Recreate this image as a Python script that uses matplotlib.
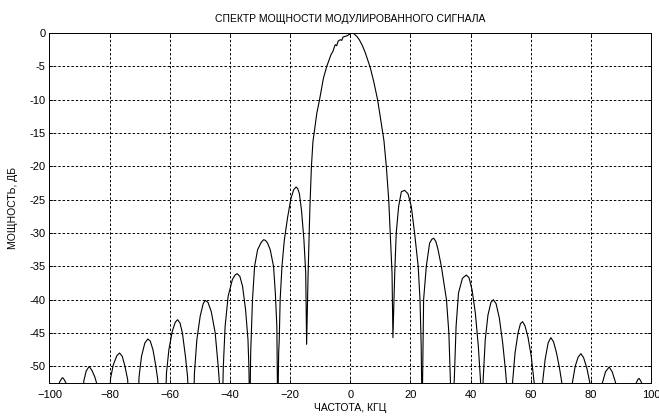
"""
Power spectrum of a modulated signal (MSK-like sidelobe structure).
"""

import matplotlib
matplotlib.use("Agg")
import matplotlib.pyplot as plt

plt.rcParams["font.family"] = ["Liberation Sans Narrow", "Liberation Sans", "DejaVu Sans"]

TITLE = "СПЕКТР МОЩНОСТИ МОДУЛИРОВАННОГО СИГНАЛА"
X_LABEL = "ЧАСТОТА, КГЦ"
Y_LABEL = "МОЩНОСТЬ, ДБ"

X_TICKS = [-100, -80, -60, -40, -20, 0, 20, 40, 60, 80, 100]
Y_TICKS = [0, -5, -10, -15, -20, -25, -30, -35, -40, -45, -50]

# Spectrum, left to right (kHz, dB)
freq_khz = [
    -100.0, -97.2, -96.7, -95.9, -95.6, -95.1, -94.5, -94.0,
    -89.1, -88.6, -87.8, -86.8, -85.9, -85.0, -84.4, -83.8,
    -80.2, -79.7, -78.8, -77.6, -76.7, -75.8, -74.9, -74.0, -73.4,
    -70.8, -70.2, -69.4, -68.3, -67.3, -66.5, -65.6, -64.7, -64.0, -63.4,
    -61.6, -61.1, -60.3, -59.2, -58.2, -57.4, -56.6, -55.8, -54.8, -54.1, -53.4,
    -52.2, -51.8, -51.0, -49.9, -48.9, -48.2, -47.3, -46.2, -44.9, -43.9, -43.5,
    -42.6, -42.2, -41.6, -40.6, -39.2, -38.3, -37.6, -36.7, -35.8, -34.8, -34.0, -33.7, -33.4,
    -33.1, -32.5, -31.8, -30.8, -29.6, -28.8, -28.2, -27.5, -26.6, -25.5, -24.9, -24.4, -24.1,
    -23.8, -23.6, -23.3, -22.7, -21.9, -20.8, -19.7, -18.8, -18.0, -17.5, -16.9, -16.2, -15.4, -14.8, -14.5,
    -14.0, -13.4, -12.9, -12.4, -12.0, -11.1, -10.2, -8.9, -7.8, -6.4, -5.8, -5.0, -4.5, -4.0,
    -3.3, -2.8, -2.4, -1.7, -1.0, -0.3, 0.6, 1.2, 2.2, 3.0, 3.9, 4.8, 5.6, 6.7, 7.8, 9.1,
    10.2, 11.2, 12.0, 12.8, 13.4, 13.9, 14.2,
    14.8, 15.3, 16.1, 17.0, 18.1, 19.2, 20.3, 21.4, 22.6, 23.2, 23.6, 23.9,
    24.2, 24.4, 25.3, 26.4, 27.2, 27.8, 28.5, 29.2, 30.3, 32.0, 32.8, 33.3, 33.8,
    34.6, 35.2, 36.0, 37.3, 38.6, 39.5, 40.5, 41.6, 42.6, 43.3, 43.8,
    44.2, 44.9, 45.8, 46.8, 47.6, 48.5, 49.6, 50.7, 51.6, 53.0,
    54.0, 54.8, 55.8, 56.6, 57.3, 58.1, 59.1, 60.2, 61.0, 62.6,
    64.0, 64.8, 65.8, 66.7, 67.6, 68.6, 69.6, 70.3, 72.2,
    73.9, 74.8, 75.8, 76.7, 77.6, 78.7, 79.6, 81.8,
    83.9, 84.9, 86.1, 87.1, 88.2, 91.6,
    95.1, 95.6, 96.0, 96.5, 96.9, 98.5, 100.0,
]
power_db = [
    -56.0, -58.0, -52.4, -51.8, -51.7, -52.0, -52.5, -58.0,
    -58.0, -52.2, -50.7, -50.0, -50.6, -51.5, -52.4, -58.0,
    -58.0, -51.8, -49.8, -48.4, -48.0, -48.5, -50.0, -52.0, -58.0,
    -58.0, -51.5, -48.5, -46.5, -45.9, -46.2, -47.5, -49.8, -52.0, -58.0,
    -58.0, -51.0, -47.5, -44.8, -43.4, -43.0, -43.5, -45.0, -48.5, -51.5, -58.0,
    -58.0, -51.0, -46.0, -42.5, -40.6, -40.1, -40.4, -41.8, -45.0, -50.0, -52.5,
    -58.0, -50.0, -44.0, -39.5, -37.0, -36.3, -36.1, -36.5, -38.0, -41.5, -46.0, -50.0, -58.0,
    -48.0, -40.0, -35.0, -32.5, -31.4, -31.0, -31.1, -31.5, -32.5, -35.0, -39.0, -44.0, -58.0,
    -48.0, -46.0, -40.0, -35.0, -31.0, -27.6, -24.8, -23.5, -23.1, -23.3, -24.1, -26.6, -31.0, -36.0, -46.7,
    -36.0, -26.0, -20.0, -16.3, -15.0, -12.0, -10.0, -6.75, -5.0, -3.25, -2.8, -1.75, -1.9, -1.2,
    -1.0, -1.1, -0.6, -0.5, -0.4, -0.2, 0.0, -0.1, -0.5, -1.0, -1.75, -2.7, -3.75, -5.25, -7.25, -10.0,
    -13.25, -16.1, -20.0, -25.0, -31.0, -36.0, -45.7,
    -36.0, -30.0, -26.0, -23.8, -23.6, -24.1, -26.0, -30.0, -35.0, -40.0, -47.0, -58.0,
    -47.0, -40.0, -35.0, -31.5, -30.9, -30.8, -31.3, -32.5, -35.0, -40.0, -45.0, -52.0, -58.0,
    -52.0, -44.0, -39.0, -36.8, -36.3, -36.7, -38.5, -42.0, -47.0, -52.0, -58.0,
    -52.0, -46.0, -42.3, -40.4, -40.0, -40.6, -42.8, -46.5, -50.5, -58.0,
    -52.3, -48.0, -45.0, -43.6, -43.3, -43.9, -45.6, -48.5, -51.8, -58.0,
    -52.3, -49.0, -46.5, -45.7, -46.3, -48.0, -50.3, -52.3, -58.0,
    -52.4, -50.0, -48.6, -48.1, -48.7, -50.3, -52.3, -58.0,
    -52.4, -50.8, -50.1, -50.8, -52.4, -58.0,
    -52.5, -52.0, -51.8, -52.1, -52.5, -58.0, -56.0,
]


def main():
    fig = plt.figure(figsize=(6.59, 4.16), dpi=100)
    ax = fig.add_axes([0.0751, 0.0793, 0.9127, 0.8413])

    ax.plot(freq_khz, power_db, color="black", linewidth=0.8)

    ax.set_xlim(-100, 100)
    ax.set_ylim(-52.5, 0)
    ax.set_xticks(X_TICKS)
    ax.set_yticks(Y_TICKS)
    ax.set_yticklabels([str(v) for v in Y_TICKS])

    ax.grid(True, color="black", linestyle=(0, (2.5, 2.0)), linewidth=0.7)
    ax.tick_params(direction="in", length=3, width=0.6, labelsize=8,
                   top=True, right=True)
    ax.tick_params(axis="x", pad=5)
    ax.tick_params(axis="y", pad=3)
    for sp in ax.spines.values():
        sp.set_linewidth(0.7)

    ax.set_title(TITLE, fontsize=7.5, pad=8)
    ax.set_xlabel(X_LABEL, fontsize=7.5, labelpad=2)
    ax.set_ylabel(Y_LABEL, fontsize=7.5, labelpad=8)

    fig.savefig("out.png", dpi=100)
    plt.close(fig)


if __name__ == "__main__":
    main()
